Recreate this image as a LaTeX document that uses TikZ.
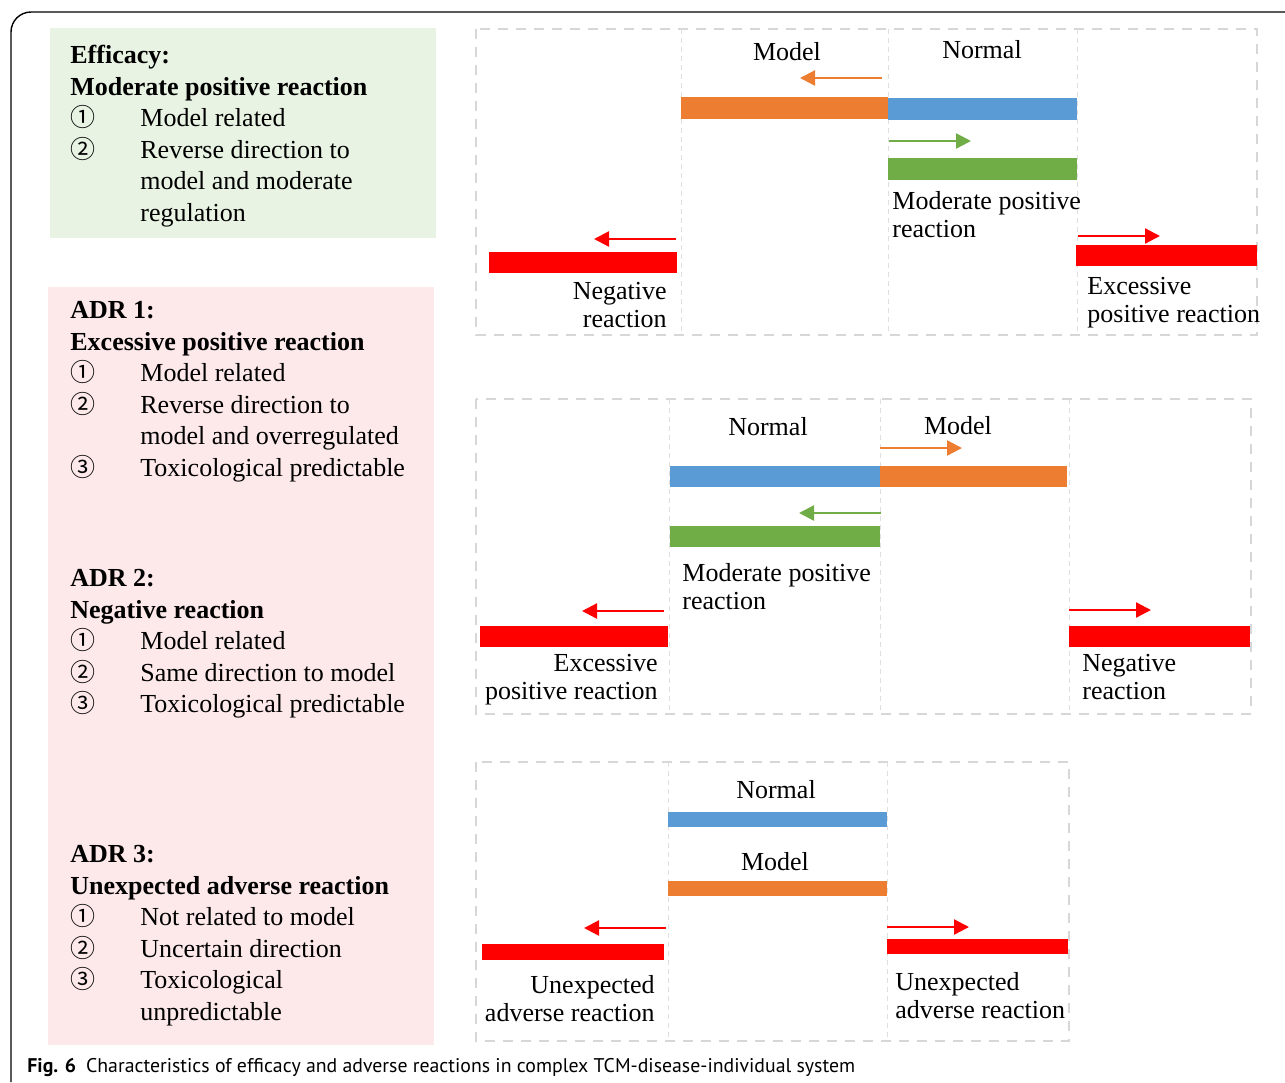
\documentclass[tikz,border=0pt]{standalone}
\usepackage{fontspec}
\setmainfont{Liberation Serif}
\newfontfamily\circfont{Noto Sans CJK SC}
\newfontfamily\capfont{PT Sans}
\usetikzlibrary{arrows.meta,fit}
\definecolor{naranja}{RGB}{237,125,49}
\definecolor{celeste}{RGB}{91,155,213}
\definecolor{verdeb}{RGB}{112,173,71}
\definecolor{rojo}{RGB}{255,0,0}
\definecolor{grisd}{RGB}{215,215,215}
\definecolor{fondov}{RGB}{232,243,227}
\definecolor{fondor}{RGB}{253,232,234}
\newcommand{\circnum}[1]{\makebox[35pt][l]{\circfont\fontsize{12.5}{15.75}\selectfont #1}}
\newcommand{\sangr}{\hspace*{35pt}}
\newcommand{\barra}[6]{\node[fill=#2, inner sep=0pt, fit={(#3,#4) (#5,#6)}] (#1) {};}
\tikzset{
  bloque/.style={anchor=north west, inner sep=0pt, align=left, font=\fontsize{13}{15.75}\selectfont},
  etq/.style={inner sep=0pt, font=\fontsize{13}{14}\selectfont},
  panel/.style={draw=grisd, line width=1pt, dash pattern=on 5pt off 4pt},
  divis/.style={draw=grisd!80, line width=0.5pt, dash pattern=on 2.5pt off 2pt},
  fl/.style={-{Triangle[length=7.5pt,width=7.5pt]}, line width=1.15pt},
}

\begin{document}
\begin{tikzpicture}[x=0.5pt,y=-0.5pt]
  \useasboundingbox (0,0) rectangle (1285,1082);
  % marco
  \draw[line width=0.7pt, rounded corners=10pt] (11,1082) -- (11,12) -- (1290,12);
  % fondos
  \fill[fondov] (50,28) rectangle (436,238);
  \fill[fondor] (48,287) rectangle (434,1045);
  % textos izquierda
  \node[bloque] (efi) at (70,45) {\textbf{Efficacy:}\\ \textbf{Moderate positive reaction}\\
    \circnum{①}Model related\\ \circnum{②}Reverse direction to\\ \sangr model and moderate\\ \sangr regulation};
  \node[bloque] (adr1) at (70,301) {\textbf{ADR 1:}\\ \textbf{Excessive positive reaction}\\
    \circnum{①}Model related\\ \circnum{②}Reverse direction to\\ \sangr model and overregulated\\ \circnum{③}Toxicological predictable};
  \node[bloque] (adr2) at (70,569) {\textbf{ADR 2:}\\ \textbf{Negative reaction}\\
    \circnum{①}Model related\\ \circnum{②}Same direction to model\\ \circnum{③}Toxicological predictable};
  \node[bloque] (adr3) at (70,845) {\textbf{ADR 3:}\\ \textbf{Unexpected adverse reaction}\\
    \circnum{①}Not related to model\\ \circnum{②}Uncertain direction\\ \circnum{③}Toxicological\\ \sangr unpredictable};
  % panel 1
  \draw[panel] (476,29) rectangle (1257,335);
  \foreach \xd in {681,888,1077} \draw[divis] (\xd,29) -- (\xd,335);
  \barra{nar1}{naranja}{681}{97}{888}{119}
  \barra{cel1}{celeste}{888}{98}{1077}{120}
  \barra{ver1}{verdeb}{888}{158}{1077}{180}
  \barra{rja1}{rojo}{489}{252}{677}{273}
  \barra{rjb1}{rojo}{1076}{245}{1257}{266}
  \coordinate (n1a) at (882,78);  \coordinate (n1b) at (800,78);
  \coordinate (v1a) at (889,141); \coordinate (v1b) at (971,141);
  \coordinate (r1a) at (676,239); \coordinate (r1b) at (594,239);
  \coordinate (s1a) at (1078,236); \coordinate (s1b) at (1160,236);
  \draw[fl, naranja] (n1a) -- (n1b);
  \draw[fl, verdeb] (v1a) -- (v1b);
  \draw[fl, rojo] (r1a) -- (r1b);
  \draw[fl, rojo] (s1a) -- (s1b);
  \node[etq, anchor=base] (mod1) at (787,60) {Model};
  \node[etq, anchor=base] (nor1) at (982,58) {Normal};
  \node[etq, anchor=north west, align=left] (mp1) at (892,191) {Moderate positive\\reaction};
  \node[etq, anchor=north east, align=right] (ng1) at (667,282) {Negative\\reaction};
  \node[etq, anchor=north west, align=left] (ex1) at (1087,277) {Excessive\\positive reaction};
  % panel 2
  \draw[panel] (476,399) rectangle (1251,714);
  \foreach \xd in {669,880,1069} \draw[divis] (\xd,399) -- (\xd,714);
  \barra{cel2}{celeste}{670}{466}{880}{487}
  \barra{nar2}{naranja}{880}{466}{1067}{487}
  \barra{ver2}{verdeb}{670}{526}{880}{547}
  \barra{rja2}{rojo}{480}{626}{668}{647}
  \barra{rjb2}{rojo}{1069}{626}{1250}{647}
  \coordinate (n2a) at (880,448); \coordinate (n2b) at (962,448);
  \coordinate (v2a) at (881,513); \coordinate (v2b) at (799,513);
  \coordinate (r2a) at (664,611); \coordinate (r2b) at (582,611);
  \coordinate (s2a) at (1069,610); \coordinate (s2b) at (1151,610);
  \draw[fl, naranja] (n2a) -- (n2b);
  \draw[fl, verdeb] (v2a) -- (v2b);
  \draw[fl, rojo] (r2a) -- (r2b);
  \draw[fl, rojo] (s2a) -- (s2b);
  \node[etq, anchor=base] (nor2) at (768,435) {Normal};
  \node[etq, anchor=base] (mod2) at (958,434) {Model};
  \node[etq, anchor=north west, align=left] (mp2) at (682,563) {Moderate positive\\reaction};
  \node[etq, anchor=north east, align=right] (ex2) at (658,654) {Excessive\\positive reaction};
  \node[etq, anchor=north west, align=left] (ng2) at (1082,654) {Negative\\reaction};
  % panel 3
  \draw[panel] (476,762) rectangle (1069,1041);
  \foreach \xd in {668,887} \draw[divis] (\xd,762) -- (\xd,1041);
  \barra{cel3}{celeste}{668}{812}{887}{827}
  \barra{nar3}{naranja}{668}{881}{887}{896}
  \barra{rja3}{rojo}{482}{944}{664}{960}
  \barra{rjb3}{rojo}{887}{939}{1068}{954}
  \coordinate (r3a) at (666,928); \coordinate (r3b) at (584,928);
  \coordinate (s3a) at (887,927); \coordinate (s3b) at (969,927);
  \draw[fl, rojo] (r3a) -- (r3b);
  \draw[fl, rojo] (s3a) -- (s3b);
  \node[etq, anchor=base] (nor3) at (776,798) {Normal};
  \node[etq, anchor=base] (mod3) at (775,870) {Model};
  \node[etq, anchor=north east, align=right] (un3a) at (655,975) {Unexpected\\adverse reaction};
  \node[etq, anchor=north west, align=left] (un3b) at (895,972) {Unexpected\\adverse reaction};
  % pie
  \node[anchor=base west, inner sep=0pt, font=\capfont\fontsize{9.9}{11}\selectfont] (pie) at (27,1072)
    {\textbf{Fig. 6}\enspace Characteristics of efficacy and adverse reactions in complex TCM-disease-individual system};
\end{tikzpicture}
\end{document}
